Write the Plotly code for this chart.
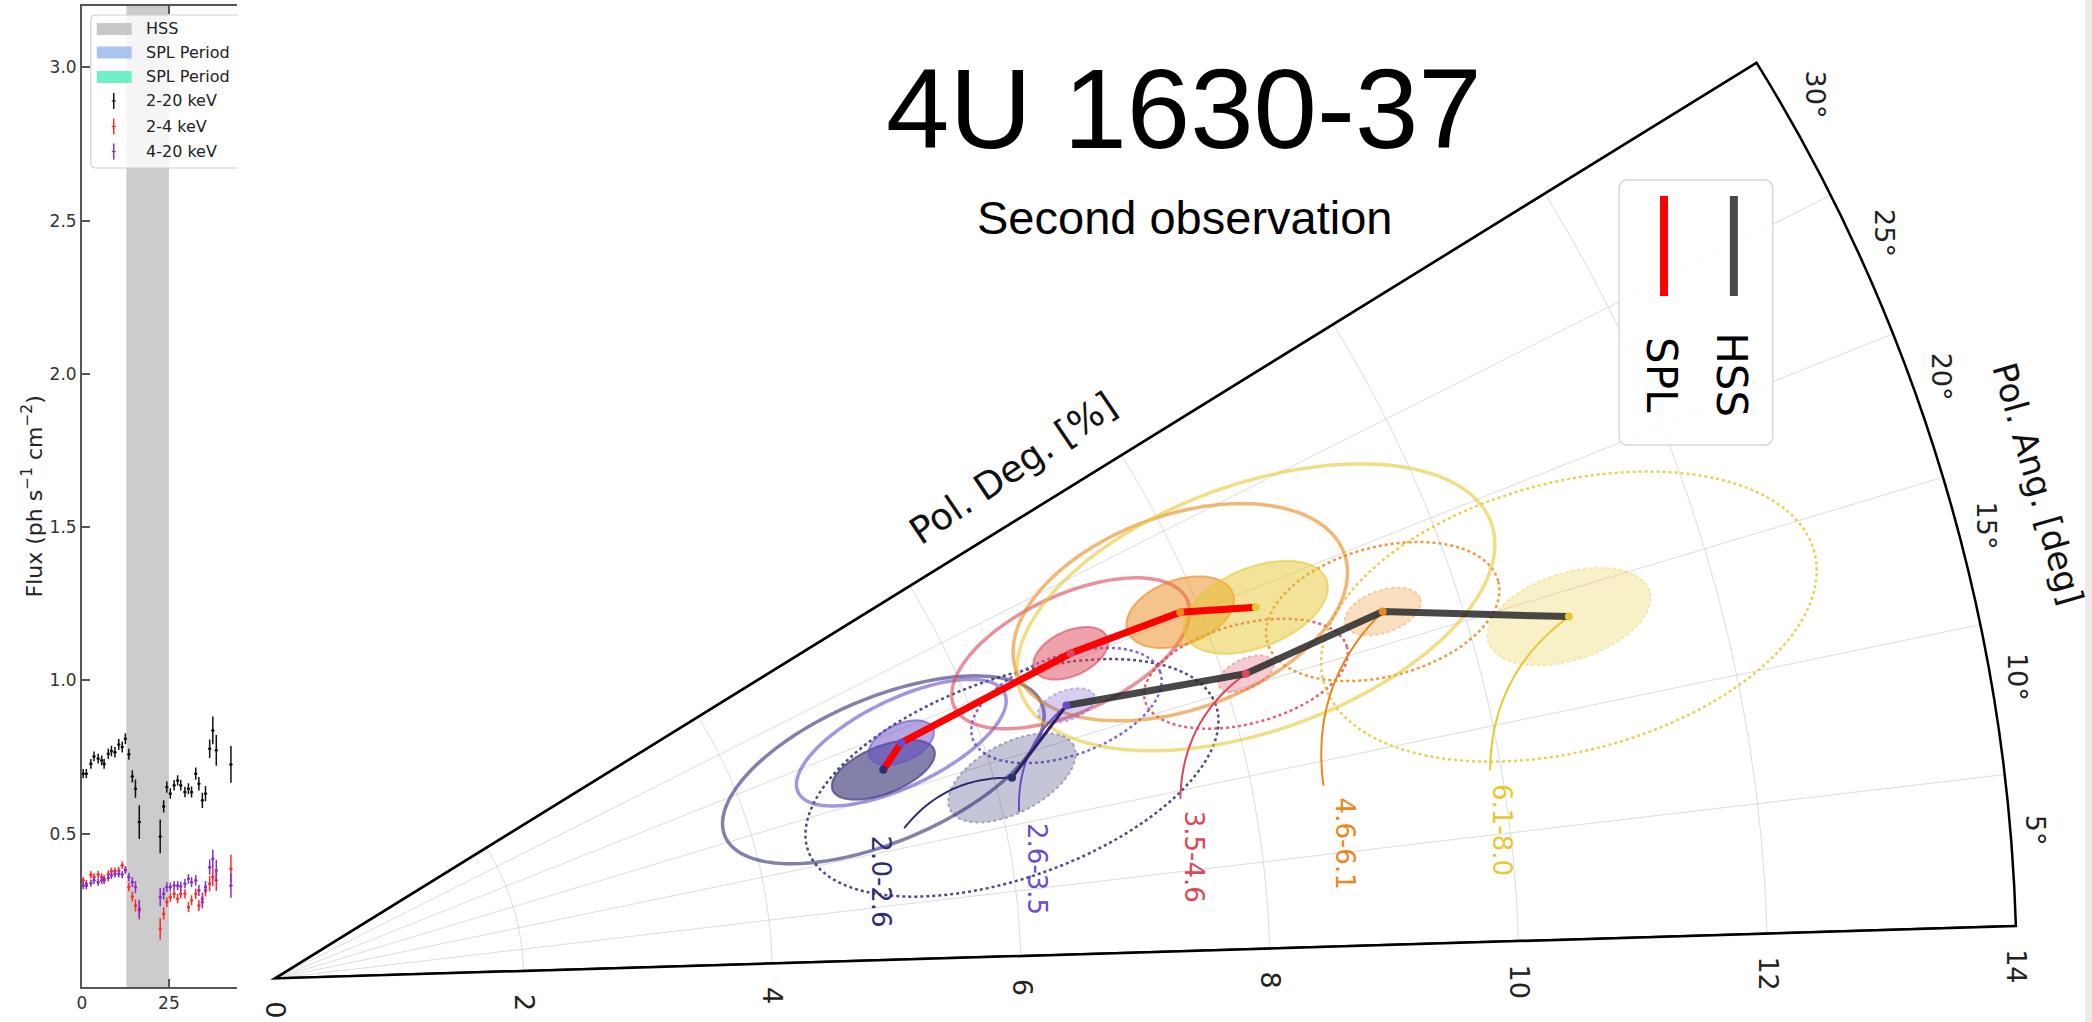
import numpy as np
import plotly.graph_objects as go

# ---------------- light curve (left panel) ----------------
time_ks = [0.4, 1.3, 2.6, 3.5, 4.7, 5.7, 6.4, 7.6, 8.5, 9.5, 10.6, 11.6, 12.5, 13.5, 14.5,
           15.4, 16.5, 22.5, 23.5, 24.4, 25.4, 26.5, 27.5, 28.4, 29.6, 30.6, 31.5, 32.7,
           33.6, 34.6, 35.5, 36.7, 37.6, 38.6, 42.8]
flux_2_20 = [0.696, 0.696, 0.728, 0.752, 0.745, 0.739, 0.728, 0.761, 0.770, 0.766, 0.791,
             0.783, 0.810, 0.759, 0.687, 0.647, 0.538, 0.491, 0.589, 0.652, 0.631, 0.658,
             0.674, 0.658, 0.636, 0.647, 0.636, 0.696, 0.663, 0.609, 0.631, 0.777, 0.837,
             0.772, 0.726]
err_2_20 = [0.015, 0.015, 0.016, 0.016, 0.016, 0.016, 0.016, 0.017, 0.017, 0.017, 0.018,
            0.018, 0.018, 0.018, 0.020, 0.030, 0.055, 0.055, 0.020, 0.018, 0.017, 0.017,
            0.017, 0.017, 0.017, 0.018, 0.018, 0.020, 0.022, 0.025, 0.025, 0.030, 0.045,
            0.050, 0.060]
flux_2_4 = [0.348, 0.337, 0.366, 0.359, 0.367, 0.359, 0.353, 0.369, 0.378, 0.378, 0.380,
            0.397, 0.382, 0.326, 0.295, 0.266, 0.250, 0.190, 0.239, 0.277, 0.293, 0.304,
            0.288, 0.304, 0.304, 0.261, 0.283, 0.304, 0.266, 0.288, 0.315, 0.337, 0.359,
            0.348, 0.386]
err_2_4 = [0.012, 0.012, 0.012, 0.012, 0.012, 0.012, 0.012, 0.012, 0.012, 0.012, 0.012,
           0.012, 0.012, 0.014, 0.016, 0.020, 0.030, 0.035, 0.020, 0.016, 0.015, 0.015,
           0.015, 0.015, 0.015, 0.016, 0.016, 0.017, 0.018, 0.020, 0.020, 0.025, 0.030,
           0.035, 0.045]
flux_4_20 = [0.331, 0.331, 0.339, 0.348, 0.342, 0.348, 0.348, 0.356, 0.364, 0.369, 0.369,
             0.367, 0.382, 0.359, 0.342, 0.326, 0.255, 0.293, 0.304, 0.326, 0.326, 0.331,
             0.331, 0.328, 0.337, 0.353, 0.342, 0.348, 0.315, 0.277, 0.326, 0.391, 0.418,
             0.380, 0.331]
err_4_20 = [0.012, 0.012, 0.012, 0.012, 0.012, 0.012, 0.012, 0.012, 0.012, 0.012, 0.012,
            0.012, 0.012, 0.014, 0.016, 0.020, 0.030, 0.030, 0.020, 0.016, 0.015, 0.015,
            0.015, 0.015, 0.015, 0.016, 0.016, 0.017, 0.018, 0.020, 0.020, 0.025, 0.030,
            0.035, 0.040]
hss_interval = [12.8, 25.0]
flux_ticks = [0.5, 1.0, 1.5, 2.0, 2.5, 3.0]
time_ticks = [0, 25]
lc_legend = ["HSS", "SPL Period", "SPL Period", "2-20 keV", "2-4 keV", "4-20 keV"]

# ---------------- polarimetry (right panel) ----------------
bands = ["2.0-2.6", "2.6-3.5", "3.5-4.6", "4.6-6.1", "6.1-8.0"]
band_rgb = [(45, 45, 115), (106, 76, 200), (220, 70, 90), (235, 135, 25), (230, 200, 50)]

spl_pd = [5.17, 5.38, 6.91, 7.85, 8.43]
spl_pa = [17.2, 18.9, 20.5, 20.3, 19.0]
hss_pd = [6.14, 6.73, 8.18, 9.38, 10.80]
hss_pa = [13.5, 17.3, 15.7, 16.6, 13.9]

# 1-sigma error ellipses: semi-axes (PD units) and tilt (deg)
spl_err_a = [0.44, 0.28, 0.32, 0.45, 0.61]
spl_err_b = [0.19, 0.15, 0.18, 0.26, 0.32]
spl_err_tilt = [20, 23, 23, 18, 20]
hss_err_a = [0.56, 0.24, 0.24, 0.32, 0.68]
hss_err_b = [0.28, 0.12, 0.12, 0.17, 0.35]
hss_err_tilt = [26, 18, 23, 18, 16]

# outer confidence contours
spl_cont_a = [1.38, 0.92, 1.03, 1.40, 2.01]
spl_cont_b = [0.58, 0.35, 0.47, 0.78, 0.99]
spl_cont_tilt = [21, 24, 23, 18, 18]
hss_cont_a = [1.74, 0.80, 0.84, 0.96, 2.04]
hss_cont_b = [0.80, 0.40, 0.40, 0.52, 1.08]
hss_cont_tilt = [18, 18, 13, 13, 13]

pd_ticks = [0, 2, 4, 6, 8, 10, 12, 14]
pa_ticks = [5, 10, 15, 20, 25, 30]

# ---------------- geometry ----------------
W, H = 2092, 1022
ROT = 1.72              # screen angle of PA = 0
PD_MAX = 14
POLAR_X = [270.5 / W, 2015.7 / W]
POLAR_Y = [41.5 / H, 961.5 / H]
TICK_SIZE = 27


def rgba(c, a):
    return f"rgba({c[0]},{c[1]},{c[2]},{a})"


def px(x):
    return x / W


def py(y):
    return 1 - y / H


def polar_scale():
    """Centre (x right, y up) and pixel radius of the polar sector, as plotly fits it."""
    s0, s1 = np.radians(ROT), np.radians(ROT + 30)
    bx1 = max(np.cos(s0), np.cos(s1))
    by1 = max(np.sin(s0), np.sin(s1))
    xlen = W * (POLAR_X[1] - POLAR_X[0])
    ylen = H * (POLAR_Y[1] - POLAR_Y[0])
    rad = min(xlen / bx1, ylen / by1)
    cx = W * POLAR_X[0] + 0.5 * (xlen - rad * bx1)
    cy = H * POLAR_Y[0] + 0.5 * (ylen - rad * by1)
    return cx, cy, rad


def polar_to_pixels(r, theta):
    cx, cy, rad = polar_scale()
    a = np.radians(theta + ROT)
    return cx + rad * r / PD_MAX * np.cos(a), cy + rad * r / PD_MAX * np.sin(a)


def polar_to_paper(r, theta):
    x, y = polar_to_pixels(r, theta)
    return x / W, y / H


def ellipse(pd, pa, a, b, tilt, n=160):
    c = np.radians(pa)
    cu, cv = pd * np.cos(c), pd * np.sin(c)
    t = np.linspace(0, 2 * np.pi, n)
    ex, ey = a * np.cos(t), b * np.sin(t)
    ph = np.radians(tilt)
    u = cu + ex * np.cos(ph) - ey * np.sin(ph)
    v = cv + ex * np.sin(ph) + ey * np.cos(ph)
    return np.hypot(u, v), np.degrees(np.arctan2(v, u))


def leader(pd0, pa0, pd1, pa1, bend=0.25, n=40):
    p0 = np.array([pd0 * np.cos(np.radians(pa0)), pd0 * np.sin(np.radians(pa0))])
    p2 = np.array([pd1 * np.cos(np.radians(pa1)), pd1 * np.sin(np.radians(pa1))])
    d = p2 - p0
    ctrl = (p0 + p2) / 2 + bend * np.array([-d[1], d[0]])
    t = np.linspace(0, 1, n)[:, None]
    pts = (1 - t) ** 2 * p0 + 2 * (1 - t) * t * ctrl + t ** 2 * p2
    return np.hypot(pts[:, 0], pts[:, 1]), np.degrees(np.arctan2(pts[:, 1], pts[:, 0]))


fig = go.Figure()

# ---- light curve traces ----
for ys, es, col in [(flux_2_20, err_2_20, "#111111"),
                    (flux_2_4, err_2_4, "#ff2a2a"),
                    (flux_4_20, err_4_20, "#8b2fc9")]:
    fig.add_trace(go.Scatter(
        x=time_ks, y=ys, mode="markers",
        marker=dict(color=col, size=3),
        error_y=dict(type="data", array=es, color=col, thickness=1.5, width=0),
        error_x=dict(type="constant", value=0.45, color=col, thickness=1.2, width=0),
        xaxis="x", yaxis="y", showlegend=False, hoverinfo="skip"))

# ---- polar panel ----
# sector edges
for edge in (0, 30):
    fig.add_trace(go.Scatterpolar(r=[0, PD_MAX], theta=[edge, edge], mode="lines",
                                  line=dict(color="black", width=2.5),
                                  showlegend=False, hoverinfo="skip"))

# outer contours: SPL solid, HSS dotted
for i in range(len(bands)):
    c = band_rgb[i]
    r, th = ellipse(hss_pd[i], hss_pa[i], hss_cont_a[i], hss_cont_b[i], hss_cont_tilt[i])
    fig.add_trace(go.Scatterpolar(r=r, theta=th, mode="lines",
                                  line=dict(color=rgba(c, 0.85), width=2.5, dash="dot"),
                                  showlegend=False, hoverinfo="skip"))
for i in range(len(bands)):
    c = band_rgb[i]
    r, th = ellipse(spl_pd[i], spl_pa[i], spl_cont_a[i], spl_cont_b[i], spl_cont_tilt[i])
    fig.add_trace(go.Scatterpolar(r=r, theta=th, mode="lines",
                                  line=dict(color=rgba(c, 0.6), width=3.5),
                                  showlegend=False, hoverinfo="skip"))

# filled error ellipses
for i in range(len(bands)):
    c = band_rgb[i]
    r, th = ellipse(hss_pd[i], hss_pa[i], hss_err_a[i], hss_err_b[i], hss_err_tilt[i])
    fig.add_trace(go.Scatterpolar(r=r, theta=th, mode="lines", fill="toself",
                                  fillcolor=rgba(c, 0.28),
                                  line=dict(color=rgba(c, 0.35), width=2, dash="dot"),
                                  showlegend=False, hoverinfo="skip"))
    r, th = ellipse(spl_pd[i], spl_pa[i], spl_err_a[i], spl_err_b[i], spl_err_tilt[i])
    fig.add_trace(go.Scatterpolar(r=r, theta=th, mode="lines", fill="toself",
                                  fillcolor=rgba(c, 0.5 if i else 0.6),
                                  line=dict(color=rgba(c, 0.6), width=2),
                                  showlegend=False, hoverinfo="skip"))

# leader curves from band labels to the HSS points
label_pd = [4.93, 6.19, 7.45, 8.67, 9.93]
label_pa = [7.4, 6.5, 5.9, 5.5, 5.2]
lead_pd = [5.20, 6.13, 7.42, 8.57, 9.91]
lead_pa = [11.7, 10.9, 9.5, 8.7, 8.0]
for i in range(len(bands)):
    r, th = leader(lead_pd[i], lead_pa[i], hss_pd[i], hss_pa[i])
    fig.add_trace(go.Scatterpolar(r=r, theta=th, mode="lines",
                                  line=dict(color=rgba(band_rgb[i], 1), width=2),
                                  showlegend=False, hoverinfo="skip"))

# HSS and SPL tracks
fig.add_trace(go.Scatterpolar(r=hss_pd[:2], theta=hss_pa[:2], mode="lines",
                              line=dict(color="rgb(40,35,100)", width=3),
                              showlegend=False, hoverinfo="skip"))
fig.add_trace(go.Scatterpolar(r=hss_pd[1:], theta=hss_pa[1:], mode="lines",
                              line=dict(color="rgba(40,40,40,0.85)", width=7),
                              showlegend=False, hoverinfo="skip"))
fig.add_trace(go.Scatterpolar(r=spl_pd, theta=spl_pa, mode="lines",
                              line=dict(color="#ff0000", width=7),
                              showlegend=False, hoverinfo="skip"))
fig.add_trace(go.Scatterpolar(r=hss_pd + spl_pd, theta=hss_pa + spl_pa, mode="markers",
                              marker=dict(color=[rgba(c, 1) for c in band_rgb] * 2, size=8),
                              showlegend=False, hoverinfo="skip"))

shapes = []
annotations = []

# HSS band in the light curve
shapes.append(dict(type="rect", xref="x", yref="y domain", x0=hss_interval[0],
                   x1=hss_interval[1], y0=0, y1=1, fillcolor="#cccccc",
                   line=dict(width=0), layer="below"))

# light-curve legend
lx0, lx1, ly0, ly1, rr = 86, 233, 15, 168, 5
shapes.append(dict(type="rect", xref="paper", yref="paper", x0=px(lx0), x1=px(lx1),
                   y0=py(ly1), y1=py(ly0), fillcolor="rgba(255,255,255,0.8)",
                   line=dict(width=0)))
shapes.append(dict(type="path", xref="paper", yref="paper",
                   path=(f"M {px(lx1)},{py(ly0)} L {px(lx0 + rr)},{py(ly0)} "
                         f"Q {px(lx0)},{py(ly0)} {px(lx0)},{py(ly0 + rr)} "
                         f"L {px(lx0)},{py(ly1 - rr)} Q {px(lx0)},{py(ly1)} {px(lx0 + rr)},{py(ly1)} "
                         f"L {px(lx1)},{py(ly1)}"),
                   line=dict(color="#d0d0d0", width=1.2)))
row_y = [29, 52.5, 77, 101, 126.5, 151.5]
patch_cols = ["#c8c8c8", "#a9c4ef", "#6ff0c4"]
bar_cols = ["#111111", "#ff2a2a", "#8b2fc9"]
for k, name in enumerate(lc_legend):
    yc = row_y[k]
    if k < 3:
        shapes.append(dict(type="rect", xref="paper", yref="paper", x0=px(92), x1=px(127),
                           y0=py(yc + 6), y1=py(yc - 6), fillcolor=patch_cols[k],
                           line=dict(width=0)))
    else:
        col = bar_cols[k - 3]
        shapes.append(dict(type="line", xref="paper", yref="paper", x0=px(109), x1=px(109),
                           y0=py(yc + 8), y1=py(yc - 8), line=dict(color=col, width=1.5)))
        shapes.append(dict(type="line", xref="paper", yref="paper", x0=px(107), x1=px(111),
                           y0=py(yc), y1=py(yc), line=dict(color=col, width=1.2)))
    annotations.append(dict(text=name, xref="paper", yref="paper", x=px(139), y=py(yc),
                            xanchor="left", yanchor="middle", showarrow=False,
                            font=dict(family="DejaVu Sans", size=16, color="#222")))

# y-axis title of the light curve
annotations.append(dict(text="Flux (ph s<sup>\u22121</sup> cm<sup>\u22122</sup>)",
                        xref="paper", yref="paper", x=px(27.5), y=py(496), textangle=-90,
                        xanchor="center", yanchor="middle", showarrow=False,
                        font=dict(family="DejaVu Sans", size=22, color="#222")))

# radial tick labels, set just outside the PA = 0 edge
nx, ny = np.sin(np.radians(ROT)), -np.cos(np.radians(ROT))
for v in pd_ticks:
    bx, by = polar_to_pixels(v, 0)
    d = 22 + len(str(v)) * 0.636 * TICK_SIZE / 2
    annotations.append(dict(text=str(v), xref="paper", yref="paper",
                            x=(bx + d * nx) / W, y=(by + d * ny) / H, textangle=90,
                            xanchor="center", yanchor="middle", showarrow=False,
                            font=dict(family="DejaVu Sans", size=TICK_SIZE, color="#222")))

# angular tick labels: a fixed gap between the arc and each rotated label box
_, _, rad_px = polar_scale()
for v in pa_ticks:
    txt = f"{v}\u00b0"
    half_w = 0.5 * 0.95 * TICK_SIZE
    half_h = 0.5 * (0.636 * len(str(v)) + 0.5) * TICK_SIZE
    a = np.radians(v + ROT)
    reach = half_w * abs(np.cos(a)) + half_h * abs(np.sin(a))
    r_lab = (rad_px + 10 + reach) / rad_px * PD_MAX
    xp, yp = polar_to_paper(r_lab, v - 1.9)
    annotations.append(dict(text=txt, xref="paper", yref="paper", x=xp, y=yp,
                            textangle=90, xanchor="center", yanchor="middle", showarrow=False,
                            font=dict(family="DejaVu Sans", size=TICK_SIZE, color="#222")))

# band labels
for i, b in enumerate(bands):
    xp, yp = polar_to_paper(label_pd[i], label_pa[i])
    annotations.append(dict(text=b, xref="paper", yref="paper", x=xp, y=yp, textangle=90,
                            xanchor="center", yanchor="middle", showarrow=False,
                            font=dict(family="DejaVu Sans", size=26, color=rgba(band_rgb[i], 1))))

# titles
annotations.append(dict(text="4U 1630-37", xref="paper", yref="paper", x=px(1182), y=py(108),
                        xanchor="center", yanchor="middle", showarrow=False,
                        font=dict(family="Liberation Sans", size=114, color="black")))
annotations.append(dict(text="Second observation", xref="paper", yref="paper", x=px(1182),
                        y=py(218), xanchor="center", yanchor="middle", showarrow=False,
                        font=dict(family="Liberation Sans", size=47, color="black")))
annotations.append(dict(text="Pol. Deg. [%]", xref="paper", yref="paper", x=px(1010), y=py(468),
                        textangle=-34, xanchor="center", yanchor="middle", showarrow=False,
                        font=dict(family="DejaVu Sans", size=37, color="#111")))
annotations.append(dict(text="Pol. Ang. [deg]", xref="paper", yref="paper", x=px(2038),
                        y=py(484), textangle=74, xanchor="center", yanchor="middle",
                        showarrow=False,
                        font=dict(family="DejaVu Sans", size=34, color="#111")))

# HSS / SPL key
kx0, kx1, ky0, ky1, kr = 1618, 1772, 180, 445, 9
shapes.append(dict(type="path", xref="paper", yref="paper",
                   path=(f"M {px(kx0 + kr)},{py(ky0)} L {px(kx1 - kr)},{py(ky0)} "
                         f"Q {px(kx1)},{py(ky0)} {px(kx1)},{py(ky0 + kr)} "
                         f"L {px(kx1)},{py(ky1 - kr)} Q {px(kx1)},{py(ky1)} {px(kx1 - kr)},{py(ky1)} "
                         f"L {px(kx0 + kr)},{py(ky1)} Q {px(kx0)},{py(ky1)} {px(kx0)},{py(ky1 - kr)} "
                         f"L {px(kx0)},{py(ky0 + kr)} Q {px(kx0)},{py(ky0)} {px(kx0 + kr)},{py(ky0)} Z"),
                   fillcolor="rgba(255,255,255,0.85)", line=dict(color="#d8d8d8", width=1.5)))
for name, col, xk in [("SPL", "#ff0000", 1663), ("HSS", "#4a4a4a", 1733)]:
    shapes.append(dict(type="line", xref="paper", yref="paper", x0=px(xk), x1=px(xk),
                       y0=py(196), y1=py(296), line=dict(color=col, width=8)))
    annotations.append(dict(text=name, xref="paper", yref="paper", x=px(xk - 2), y=py(375),
                            textangle=90, xanchor="center", yanchor="middle", showarrow=False,
                            font=dict(family="DejaVu Sans", size=42, color="black")))

# page edge strip
shapes.append(dict(type="rect", xref="paper", yref="paper", x0=px(2085), x1=1, y0=0, y1=1,
                   fillcolor="#ececec", line=dict(width=0)))

tickfont = dict(family="DejaVu Sans", size=17, color="#333")
grid_col = "rgba(190,190,200,0.55)"

fig.update_layout(
    width=W, height=H, margin=dict(l=0, r=0, t=0, b=0),
    paper_bgcolor="white", plot_bgcolor="white", showlegend=False,
    xaxis=dict(domain=[px(77), px(233)], range=[0, 44.67], tickvals=time_ticks,
               ticks="inside", ticklen=8, tickwidth=1.5, tickcolor="#555",
               showline=True, linecolor="#555", linewidth=1.5, mirror="ticks",
               showgrid=False, zeroline=False, tickfont=tickfont),
    yaxis=dict(domain=[1 - 987 / H, 1 - 6 / H], range=[0, 3.2], tickvals=flux_ticks,
               ticktext=[f"{v:.1f}" for v in flux_ticks],
               ticks="inside", ticklen=8, tickwidth=1.5, tickcolor="#555",
               showline=True, linecolor="#555", linewidth=1.5,
               showgrid=False, zeroline=False, tickfont=tickfont),
    polar=dict(
        domain=dict(x=POLAR_X, y=POLAR_Y),
        sector=[ROT, ROT + 30], bgcolor="white",
        angularaxis=dict(rotation=ROT, direction="counterclockwise", tickvals=pa_ticks,
                         ticks="", showticklabels=False,
                         showline=True, linecolor="black", linewidth=2.5,
                         gridcolor=grid_col, gridwidth=1),
        radialaxis=dict(range=[0, PD_MAX], tickvals=pd_ticks, ticks="", showline=False,
                        showticklabels=False, gridcolor=grid_col, gridwidth=1, angle=ROT),
    ),
    shapes=shapes, annotations=annotations,
)

fig.write_html("out.html", config={"displayModeBar": False})
